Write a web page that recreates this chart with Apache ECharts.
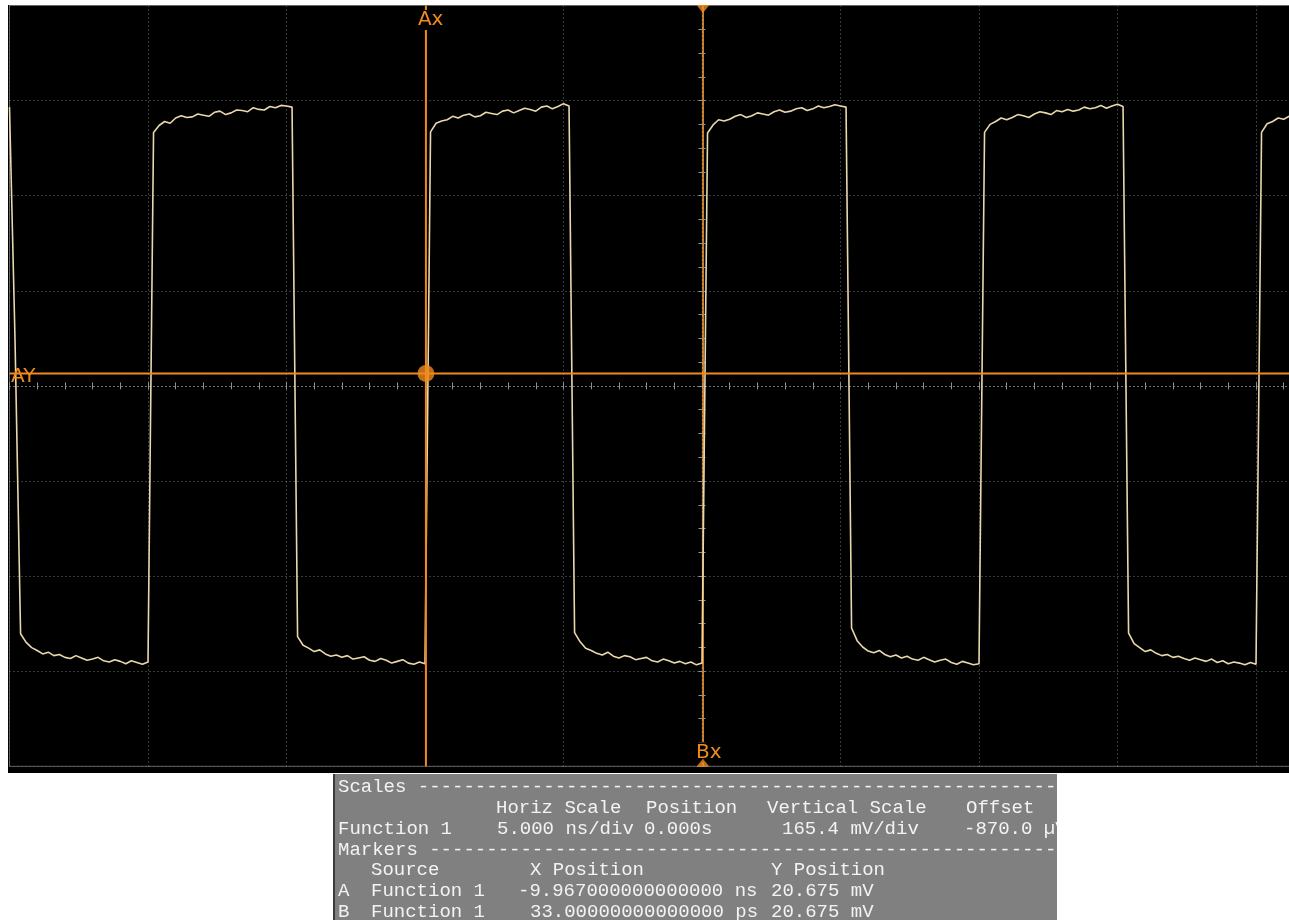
<!DOCTYPE html>
<html>
<head>
<meta charset="utf-8">
<script src="https://cdn.jsdelivr.net/npm/echarts@6/dist/echarts.min.js"></script>
<style>
html,body{margin:0;padding:0;background:#ffffff;}
#c{width:1289px;height:920px;}
</style>
</head>
<body>
<div id="c"></div>
<script>
// ---------------- DATA ----------------
const HORIZ_SCALE_NS = 5.0;      // ns/div
const VERT_SCALE_MV = 165.4;     // mV/div
const OFFSET_MV = -0.87;         // -870.0 µV
const X_DIVS = 10;
const Y_DIVS = 8;

// Oscilloscope samples (Function 1): sampling grid start and step
const SAMPLE_START_NS = -25.0;
const SAMPLE_STEP_NS = 0.2;

// trace values in mV, read segment by segment from the screen
const leadMv  = [484, 78];
const low1Mv  = [-432, -447, -456, -461, -467, -464, -470, -468, -473, -475, -470, -474, -478, -476, -473, -479, -481, -477, -480, -484, -479, -482, -485, -481];
const high1Mv = [440, 452, 459, 456, 465, 469, 466, 467, 472, 470, 468, 475, 477, 471, 474, 479, 478, 476, 483, 480, 479, 485, 483, 487, 486, 484];
const low2Mv  = [-437, -452, -457, -463, -460, -467, -471, -469, -473, -470, -476, -474, -472, -478, -480, -475, -478, -483, -480, -477, -483, -485, -481, -484];
const high2Mv = [441, 456, 460, 462, 468, 465, 470, 472, 467, 469, 475, 473, 471, 477, 479, 474, 478, 482, 480, 477, 484, 486, 481, 485, 490, 486];
const low3Mv  = [-430, -446, -457, -461, -466, -469, -464, -471, -474, -470, -472, -477, -475, -473, -479, -481, -476, -479, -483, -480, -484, -481, -486, -483];
const high3Mv = [439, 453, 462, 460, 463, 468, 471, 466, 469, 474, 472, 470, 476, 479, 475, 477, 481, 483, 478, 481, 486, 483, 485, 488, 486, 484];
const low4Mv  = [-422, -444, -455, -462, -465, -461, -468, -472, -469, -474, -471, -476, -478, -473, -477, -481, -478, -476, -482, -485, -480, -483, -486, -484];
const high4Mv = [440, 454, 459, 465, 462, 466, 471, 469, 466, 472, 476, 474, 471, 478, 476, 480, 477, 479, 484, 481, 483, 487, 482, 486, 489, 485];
const low5Mv  = [-431, -449, -456, -463, -460, -466, -470, -468, -473, -471, -475, -478, -474, -477, -480, -476, -482, -479, -484, -481, -483, -486, -482, -485];
const high5Mv = [440, 455, 459, 465, 463, 468, 470];
const traceMv = [].concat(leadMv, low1Mv, high1Mv, low2Mv, high2Mv, low3Mv, high3Mv, low4Mv, high4Mv, low5Mv, high5Mv);

// markers
const markerNames = ['A', 'B'];
const markerXNs = [-9.967, 0.033];
const markerYMv = [20.675, 20.675];

// readout panel text
const panelRows = [
  ['Scales ----------------------------------------------------------'],
  ['Horiz Scale', 'Position', 'Vertical Scale', 'Offset'],
  ['Function 1', '5.000 ns/div', '0.000s', '165.4 mV/div', '-870.0 \u00b5V'],
  ['Markers ---------------------------------------------------------'],
  ['Source', 'X Position', 'Y Position'],
  ['A', 'Function 1', '-9.967000000000000 ns', '20.675 mV'],
  ['B', 'Function 1', '33.00000000000000 ps', '20.675 mV']
];

// ---------------- LAYOUT / STYLE ----------------
const panelCols = [
  [338],
  [496, 646, 767, 966],
  [338, 497, 644, 782, 964],
  [338],
  [371, 530, 771],
  [338, 371, 518, 771],
  [338, 371, 530, 771]
];
const panelRowY = [787, 808, 829, 850, 870, 891, 912];

const ORANGE = '#f08a1c';
const TRACE = '#ead8ad';
const GRID_LINE = '#747474';
const TICK = '#939393';

const X_MIN = -HORIZ_SCALE_NS * X_DIVS / 2;
const X_MAX = HORIZ_SCALE_NS * X_DIVS / 2;
const Y_HALF = VERT_SCALE_MV * Y_DIVS / 2;

const toPlotY = v => v - OFFSET_MV;
const traceData = traceMv.map((v, i) => [SAMPLE_START_NS + i * SAMPLE_STEP_NS, toPlotY(v)]);

const xA = markerXNs[0], yA = toPlotY(markerYMv[0]);
const xB = markerXNs[1];

function xAx(pos, main) {
  return {
    type: 'value', gridIndex: 0, position: pos,
    min: X_MIN, max: X_MAX, interval: HORIZ_SCALE_NS,
    axisLine: { show: true, onZero: true, onZeroAxisIndex: 0, lineStyle: { color: GRID_LINE, width: 1, type: [1, 3] } },
    axisTick: { show: true, inside: false, length: 3.5, lineStyle: { color: TICK, width: 1 } },
    minorTick: { show: true, splitNumber: 5, length: 3.5, lineStyle: { color: TICK, width: 1 } },
    splitLine: { show: main, lineStyle: { color: GRID_LINE, width: 1, type: [1, 3] } },
    axisLabel: { show: false }
  };
}
function yAx(pos, main) {
  return {
    type: 'value', gridIndex: 0, position: pos,
    min: -Y_HALF, max: Y_HALF, interval: VERT_SCALE_MV,
    axisLine: { show: true, onZero: true, onZeroAxisIndex: 0, lineStyle: { color: GRID_LINE, width: 1, type: [1, 3] } },
    axisTick: { show: true, inside: false, length: 3.5, lineStyle: { color: TICK, width: 1 } },
    minorTick: { show: true, splitNumber: 4, length: 3.5, lineStyle: { color: TICK, width: 1 } },
    splitLine: { show: main, lineStyle: { color: GRID_LINE, width: 1, type: [1, 3] } },
    axisLabel: { show: false }
  };
}

const panelGraphics = [];
panelRows.forEach((row, r) => {
  row.forEach((txt, k) => {
    panelGraphics.push({
      type: 'text', z: 20,
      x: panelCols[r][k], y: panelRowY[r],
      style: {
        text: txt, fill: '#f3f3f3', font: '19px "Liberation Mono", monospace',
        align: 'left', verticalAlign: 'middle',
        shadowColor: 'rgba(30,30,30,0.8)', shadowOffsetX: 1, shadowOffsetY: 1, shadowBlur: 0
      }
    });
  });
});

const chart = echarts.init(document.getElementById('c'), null, { renderer: 'canvas' });

const option = {
  animation: false,
  backgroundColor: '#ffffff',
  grid: {
    left: 9.5, top: 5.5, right: 1289 - 9.5 - 1385, bottom: 920 - 5.5 - 760.8,
    containLabel: false, outerBoundsMode: 'none',
    show: true, borderColor: '#5e5e5e', borderWidth: 1, backgroundColor: 'transparent'
  },
  xAxis: [xAx('bottom', true), xAx('top', false)],
  yAxis: [yAx('left', true), yAx('right', false)],
  graphic: [
    { type: 'rect', z: -100, shape: { x: 8, y: 5, width: 1281, height: 768 }, style: { fill: '#000000' } },
    { type: 'rect', z: 15, shape: { x: 333, y: 774, width: 724, height: 146 }, style: { fill: '#808080' } },
    { type: 'rect', z: 16, shape: { x: 333, y: 774, width: 2, height: 146 }, style: { fill: '#3c3c3c' } },
    { type: 'rect', z: 30, shape: { x: 1057, y: 774, width: 232, height: 146 }, style: { fill: '#ffffff' } }
  ].concat(panelGraphics),
  series: [
    {
      name: 'B cursor', type: 'line', z: -1, silent: true, symbol: 'none',
      data: [[xB, -Y_HALF], [xB, Y_HALF]],
      lineStyle: { color: ORANGE, width: 2 }
    },
    {
      name: 'Function 1', type: 'line', z: 3, silent: true, symbol: 'none', showSymbol: false,
      data: traceData, clip: true,
      lineStyle: { color: TRACE, width: 1.6 }
    },
    {
      name: 'AY cursor', type: 'line', z: 4, silent: true, symbol: 'none',
      data: [[X_MIN, yA], [X_MAX, yA]],
      lineStyle: { color: ORANGE, width: 2 }
    },
    {
      name: 'Ax cursor', type: 'line', z: 4, silent: true, symbol: 'none',
      data: [[xA, -Y_HALF], [xA, Y_HALF]],
      lineStyle: { color: ORANGE, width: 2 }
    },
    {
      name: 'A point', type: 'scatter', z: 8, silent: true, symbol: 'circle', symbolSize: 17,
      data: [[xA, yA]], itemStyle: { color: ORANGE }
    },
    {
      name: 'B ends', type: 'scatter', z: 8, silent: true, symbol: 'triangle', symbolSize: [13, 8], clip: false,
      itemStyle: { color: ORANGE },
      data: [
        { value: [xB, Y_HALF], symbolRotate: 180, symbolOffset: [0, 3.5] },
        { value: [xB, -Y_HALF], symbolOffset: [0, -3.5] }
      ]
    }
  ]
};
chart.setOption(option);

// cursor labels positioned through the chart's own scales
const pA = chart.convertToPixel({ gridIndex: 0 }, [xA, yA]);
const pB = chart.convertToPixel({ gridIndex: 0 }, [xB, -Y_HALF]);
const pTop = chart.convertToPixel({ gridIndex: 0 }, [xA, Y_HALF]);
const pLeft = chart.convertToPixel({ gridIndex: 0 }, [X_MIN, yA]);
const labelFont = '20px "DejaVu Sans", sans-serif';
chart.setOption({
  graphic: option.graphic.concat([
    { type: 'text', z: 6, x: pA[0] - 8, y: pTop[1] + 14.5,
      style: { text: markerNames[0] + 'x', fill: ORANGE, font: labelFont, align: 'left', verticalAlign: 'middle', backgroundColor: '#000000' } },
    { type: 'text', z: 6, x: pLeft[0] + 1.5, y: pA[1] + 3,
      style: { text: markerNames[0] + 'Y', fill: ORANGE, font: labelFont, align: 'left', verticalAlign: 'middle' } },
    { type: 'text', z: 6, x: pB[0] - 7, y: pB[1] - 14,
      style: { text: markerNames[1] + 'x', fill: ORANGE, font: labelFont, align: 'left', verticalAlign: 'middle', backgroundColor: '#000000' } }
  ])
}, { replaceMerge: ['graphic'] });
</script>
</body>
</html>
